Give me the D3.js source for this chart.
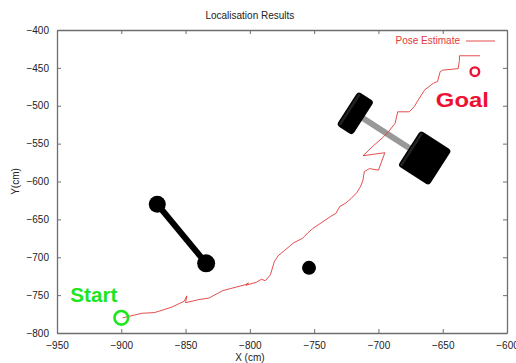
<!DOCTYPE html>
<html>
<head>
<meta charset="utf-8">
<script src="https://cdn.jsdelivr.net/npm/d3@7"></script>
<style>
  html, body { margin: 0; padding: 0; background: #fff; }
  svg { display: block; font-family: "Liberation Sans", Arial, Helvetica, sans-serif; }
</style>
</head>
<body>
<svg id="chart" width="516" height="363"></svg>
<script>
// Axis ticks
const xTicks = [-950, -900, -850, -800, -750, -700, -650, -600];
const yTicks = [-400, -450, -500, -550, -600, -650, -700, -750, -800];

// Estimated robot pose trajectory (cm)
const poseX = [-899, -884, -874, -861, -851, -849, -850, -840, -832, -821, -803, -801, -803, -795, -791, -788, -784,
  -781, -778, -773, -766, -759, -755, -751, -744, -737, -733, -730, -725, -721, -717, -714, -712, -711, -707, -700,
  -695, -712, -704, -696, -692, -687, -685, -676, -672, -670, -664, -657, -654, -652, -650, -638, -637, -637, -621];
const poseY = [-780, -774, -773, -766, -758, -751, -760, -756, -754, -744, -736, -734, -737, -733, -729, -731, -723,
  -706, -698, -691, -681, -675, -668, -662, -654, -646, -642, -633, -628, -622, -615, -607, -598, -587, -583, -585,
  -562, -566, -553, -541, -534, -523, -508, -508, -501, -495, -479, -470, -468, -455, -453, -451, -440, -434, -434];

// Start and goal markers
const startPoint = { x: -900, y: -780, label: "Start" };
const goalPoint = { x: -625, y: -455, label: "Goal" };

// Obstacles
const roundObstacles = [{ x: -754, y: -714 }];
const barbell = [{ x: -872, y: -630 }, { x: -834, y: -708 }];
const wheelPair = [{ x: -718, y: -510 }, { x: -664, y: -569 }];

const legendLabel = "Pose Estimate";
const titleText = "Localisation Results";
const xLabel = "X (cm)";
const yLabel = "Y(cm)";

const W = 516, H = 363;
const margin = { top: 30, right: 9, bottom: 30, left: 57 };
const svg = d3.select("#chart");

const x = d3.scaleLinear().domain([-950, -600]).range([margin.left, W - margin.right]);
const y = d3.scaleLinear().domain([-800, -400]).range([H - margin.bottom, margin.top]);

const axisColor = "#6e6e6e";
const textColor = "#222";

// Axes: labelled on bottom/left, ticks only on top/right, all ticks inward
const gx = svg.append("g").attr("transform", `translate(0,${y(-800)})`)
  .call(d3.axisBottom(x).tickValues(xTicks).tickSizeInner(-4).tickSizeOuter(0).tickPadding(9));
const gy = svg.append("g").attr("transform", `translate(${x(-950)},0)`)
  .call(d3.axisLeft(y).tickValues(yTicks).tickSizeInner(-4).tickSizeOuter(0).tickPadding(8));
const gxt = svg.append("g").attr("transform", `translate(0,${y(-400)})`)
  .call(d3.axisTop(x).tickValues(xTicks).tickSizeInner(-4).tickSizeOuter(0).tickFormat(""));
const gyr = svg.append("g").attr("transform", `translate(${x(-600)},0)`)
  .call(d3.axisRight(y).tickValues(yTicks).tickSizeInner(-4).tickSizeOuter(0).tickFormat(""));

[gx, gy, gxt, gyr].forEach(g => {
  g.select(".domain").attr("stroke", axisColor).attr("stroke-width", 1.3);
  g.selectAll(".tick line").attr("stroke", axisColor).attr("stroke-width", 1);
  g.selectAll(".tick text").attr("fill", textColor).attr("font-size", 10)
    .attr("font-family", "Liberation Sans, Arial, sans-serif");
});

// Titles
svg.append("text").attr("x", x(-800)).attr("y", 19).attr("text-anchor", "middle")
  .attr("font-size", 10).attr("fill", textColor).text(titleText);
svg.append("text").attr("x", x(-800)).attr("y", 361).attr("text-anchor", "middle")
  .attr("font-size", 10).attr("fill", textColor).text(xLabel);
svg.append("text").attr("transform", `translate(19,${y(-600)}) rotate(-90)`).attr("text-anchor", "middle")
  .attr("font-size", 10).attr("fill", textColor).text(yLabel);

// Barbell obstacle (two posts joined by a bar)
svg.append("line")
  .attr("x1", x(barbell[0].x)).attr("y1", y(barbell[0].y))
  .attr("x2", x(barbell[1].x)).attr("y2", y(barbell[1].y))
  .attr("stroke", "#000").attr("stroke-width", 6);
svg.selectAll(".post").data(barbell).join("circle")
  .attr("cx", d => x(d.x)).attr("cy", d => y(d.y)).attr("r", (d, i) => i === 0 ? 8.5 : 9)
  .attr("fill", "#000");

// Single round obstacle
svg.selectAll(".round").data(roundObstacles).join("circle")
  .attr("cx", d => x(d.x)).attr("cy", d => y(d.y)).attr("r", 7).attr("fill", "#000");

// Wheel-pair obstacle: grey axle with two block wheels
const wx1 = x(wheelPair[0].x), wy1 = y(wheelPair[0].y);
const wx2 = x(wheelPair[1].x), wy2 = y(wheelPair[1].y);
const ang = Math.atan2(wy2 - wy1, wx2 - wx1) * 180 / Math.PI;
svg.append("line").attr("x1", wx1).attr("y1", wy1).attr("x2", wx2).attr("y2", wy2)
  .attr("stroke", "#999").attr("stroke-width", 6);
const wheelSizes = [{ along: 19, across: 40 }, { along: 37, across: 42 }];
wheelPair.forEach((p, i) => {
  const g = svg.append("g").attr("transform", `translate(${x(p.x)},${y(p.y)}) rotate(${ang})`);
  const s = wheelSizes[i];
  g.append("rect").attr("x", -s.along / 2).attr("y", -s.across / 2)
    .attr("width", s.along).attr("height", s.across).attr("rx", 3.5).attr("fill", "#000");
  // thin bevel on one face
  g.append("rect").attr("x", -s.along / 2 + 1.5).attr("y", -s.across / 2 + 1.5)
    .attr("width", 2.5).attr("height", s.across - 3).attr("rx", 1).attr("fill", "#222");
});

// Pose trajectory
const pose = poseX.map((v, i) => [v, poseY[i]]);
svg.append("path").datum(pose)
  .attr("d", d3.line().x(d => x(d[0])).y(d => y(d[1])))
  .attr("fill", "none").attr("stroke", "#e23a3a").attr("stroke-width", 0.9);

// Start marker
svg.append("circle").attr("cx", x(startPoint.x)).attr("cy", y(startPoint.y)).attr("r", 6.8)
  .attr("fill", "none").attr("stroke", "#1ee61e").attr("stroke-width", 2.6);
svg.append("text").attr("x", x(startPoint.x) - 51).attr("y", y(startPoint.y) - 15.5)
  .attr("font-size", 20).attr("font-weight", "bold").attr("fill", "#1ee61e")
  .attr("textLength", 47).attr("lengthAdjust", "spacingAndGlyphs").text(startPoint.label);

// Goal marker
svg.append("circle").attr("cx", x(goalPoint.x)).attr("cy", y(goalPoint.y)).attr("r", 4.3)
  .attr("fill", "none").attr("stroke", "#ee1133").attr("stroke-width", 2.4);
svg.append("text").attr("x", x(goalPoint.x) - 39).attr("y", y(goalPoint.y) + 35)
  .attr("font-size", 21).attr("font-weight", "bold").attr("fill", "#ee1133")
  .attr("textLength", 53).attr("lengthAdjust", "spacingAndGlyphs").text(goalPoint.label);

// Legend
svg.append("text").attr("x", 460).attr("y", 44).attr("text-anchor", "end")
  .attr("font-size", 10).attr("fill", "#e23a3a").text(legendLabel);
svg.append("line").attr("x1", 466).attr("x2", 495).attr("y1", 41).attr("y2", 41)
  .attr("stroke", "#e23a3a").attr("stroke-width", 0.9);
</script>
</body>
</html>
